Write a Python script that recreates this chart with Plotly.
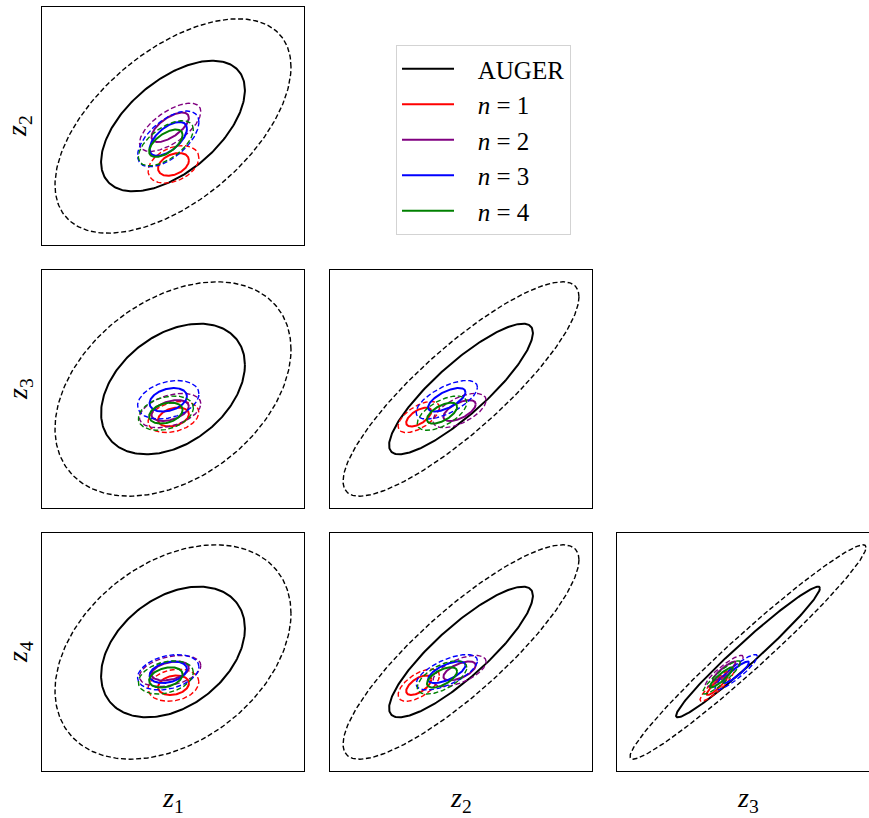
import numpy as np
import plotly.graph_objects as go

# ---------------- data (normalised units) ----------------
VAR_LABELS = ["<i>z</i><sub>1</sub>", "<i>z</i><sub>2</sub>",
              "<i>z</i><sub>3</sub>", "<i>z</i><sub>4</sub>"]
SERIES_NAMES = ["AUGER", "<i>n</i> = 1", "<i>n</i> = 2", "<i>n</i> = 3", "<i>n</i> = 4"]
SERIES_COLORS = ["black", "red", "purple", "blue", "green"]

# means of z1..z4
MEAN_AUGER = [0.0, 0.0, 0.0, 0.0]
MEAN_N1 = [0.01, -0.89, -0.65, -0.77]
MEAN_N2 = [-0.06, -0.03, -0.50, -0.44]
MEAN_N3 = [-0.10, -0.30, -0.25, -0.47]
MEAN_N4 = [-0.15, -0.40, -0.56, -0.59]

# standard deviations of z1..z4
SIGMA_AUGER = [1.0, 1.0, 1.0, 1.0]
SIGMA_N1 = [0.215, 0.175, 0.145, 0.150]
SIGMA_N2 = [0.260, 0.225, 0.160, 0.145]
SIGMA_N3 = [0.260, 0.260, 0.180, 0.165]
SIGMA_N4 = [0.233, 0.210, 0.160, 0.155]

# correlations r12, r13, r14, r23, r24, r34
CORR_AUGER = [0.55, 0.37, 0.36, 0.86, 0.86, 0.975]
CORR_N1 = [0.35, 0.30, 0.20, 0.60, 0.60, 0.90]
CORR_N2 = [0.65, 0.40, 0.35, 0.60, 0.60, 0.90]
CORR_N3 = [0.60, 0.30, 0.30, 0.65, 0.65, 0.90]
CORR_N4 = [0.60, 0.30, 0.30, 0.60, 0.60, 0.90]

# confidence levels of the contours (solid, dashed)
CONF_LEVELS = [0.6827, 0.9545]
AXIS_RANGE = [-2.76, 2.76]

MEANS = [MEAN_AUGER, MEAN_N1, MEAN_N2, MEAN_N3, MEAN_N4]
SIGMAS = [SIGMA_AUGER, SIGMA_N1, SIGMA_N2, SIGMA_N3, SIGMA_N4]
CORRS = [CORR_AUGER, CORR_N1, CORR_N2, CORR_N3, CORR_N4]
PAIR_INDEX = {(0, 1): 0, (0, 2): 1, (0, 3): 2, (1, 2): 3, (1, 3): 4, (2, 3): 5}

# ---------------- layout (pixels) ----------------
FIG_W, FIG_H = 869, 818
COL_LEFT = [42, 330, 617]
ROW_TOP = [7, 270, 533]
PANEL_W, PANEL_H = 262, 238
SOLID_W, DASH_W = 2.0, 1.4
DASH = "5px,2.6px"
FONT = "Liberation Serif, DejaVu Serif, serif"
PAD = "&nbsp;&nbsp;&nbsp;"


def ellipse(mx, my, sx, sy, rho, level):
    k = np.sqrt(-2.0 * np.log(1.0 - level))
    t = np.linspace(0, 2 * np.pi, 240)
    x = mx + k * sx * np.cos(t)
    y = my + k * sy * (rho * np.cos(t) + np.sqrt(1 - rho ** 2) * np.sin(t))
    return x, y


fig = go.Figure()
layout = {}
panel = 0
for j in range(1, 4):          # y variable
    for i in range(0, j):      # x variable
        panel += 1
        row, col = j - 1, i
        left = COL_LEFT[col]
        right = min(left + PANEL_W, FIG_W)
        frac = (right - left) / PANEL_W
        xr = [AXIS_RANGE[0], AXIS_RANGE[0] + (AXIS_RANGE[1] - AXIS_RANGE[0]) * frac]
        top = ROW_TOP[row]
        xd = [left / FIG_W, right / FIG_W]
        yd = [1 - (top + PANEL_H) / FIG_H, 1 - top / FIG_H]
        sfx = "" if panel == 1 else str(panel)
        layout["xaxis" + sfx] = dict(domain=xd, range=xr, showticklabels=False, ticks="",
                                     showgrid=False, zeroline=False, showline=True,
                                     mirror=True, linecolor="black", linewidth=1,
                                     anchor="y" + sfx, fixedrange=True)
        layout["yaxis" + sfx] = dict(domain=yd, range=AXIS_RANGE, showticklabels=False,
                                     ticks="", showgrid=False, zeroline=False, showline=True,
                                     mirror=(right - left) >= PANEL_W, linecolor="black",
                                     linewidth=1, anchor="x" + sfx, fixedrange=True)
        for s in range(len(SERIES_NAMES)):
            mu, sg, cr = MEANS[s], SIGMAS[s], CORRS[s]
            rho = cr[PAIR_INDEX[(i, j)]]
            for li, lev in enumerate(CONF_LEVELS):
                x, y = ellipse(mu[i], mu[j], sg[i], sg[j], rho, lev)
                fig.add_trace(go.Scatter(
                    x=x, y=y, mode="lines",
                    line=dict(color=SERIES_COLORS[s], width=SOLID_W if li == 0 else DASH_W,
                              dash="solid" if li == 0 else DASH),
                    name=PAD + SERIES_NAMES[s], legendgroup=SERIES_NAMES[s],
                    showlegend=(panel == 1 and li == 0),
                    xaxis="x" + sfx, yaxis="y" + sfx, hoverinfo="skip"))

annotations = []
for c in range(3):
    annotations.append(dict(text=VAR_LABELS[c], xref="paper", yref="paper",
                            x=(COL_LEFT[c] + PANEL_W / 2) / FIG_W, y=1 - 799 / FIG_H,
                            xanchor="center", yanchor="middle",
                            showarrow=False, font=dict(family=FONT, size=28, color="black")))
for r in range(3):
    annotations.append(dict(text=VAR_LABELS[r + 1], xref="paper", yref="paper",
                            x=19 / FIG_W, y=1 - (ROW_TOP[r] + PANEL_H / 2) / FIG_H,
                            xanchor="center", yanchor="middle",
                            textangle=-90, showarrow=False,
                            font=dict(family=FONT, size=28, color="black")))

fig.update_layout(
    **layout,
    width=FIG_W, height=FIG_H,
    margin=dict(l=0, r=0, t=0, b=0),
    paper_bgcolor="white", plot_bgcolor="white",
    annotations=annotations,
    legend=dict(x=396 / FIG_W, y=1 - 45 / FIG_H, xanchor="left", yanchor="top",
                bgcolor="white", bordercolor="#d3d3d3", borderwidth=1,
                font=dict(family=FONT, size=25, color="black"),
                tracegroupgap=0, itemwidth=52),
)

fig.write_html("out.html", config={"displayModeBar": False},
               post_script="document.body.style.margin='0px';document.body.style.overflow='hidden';")
